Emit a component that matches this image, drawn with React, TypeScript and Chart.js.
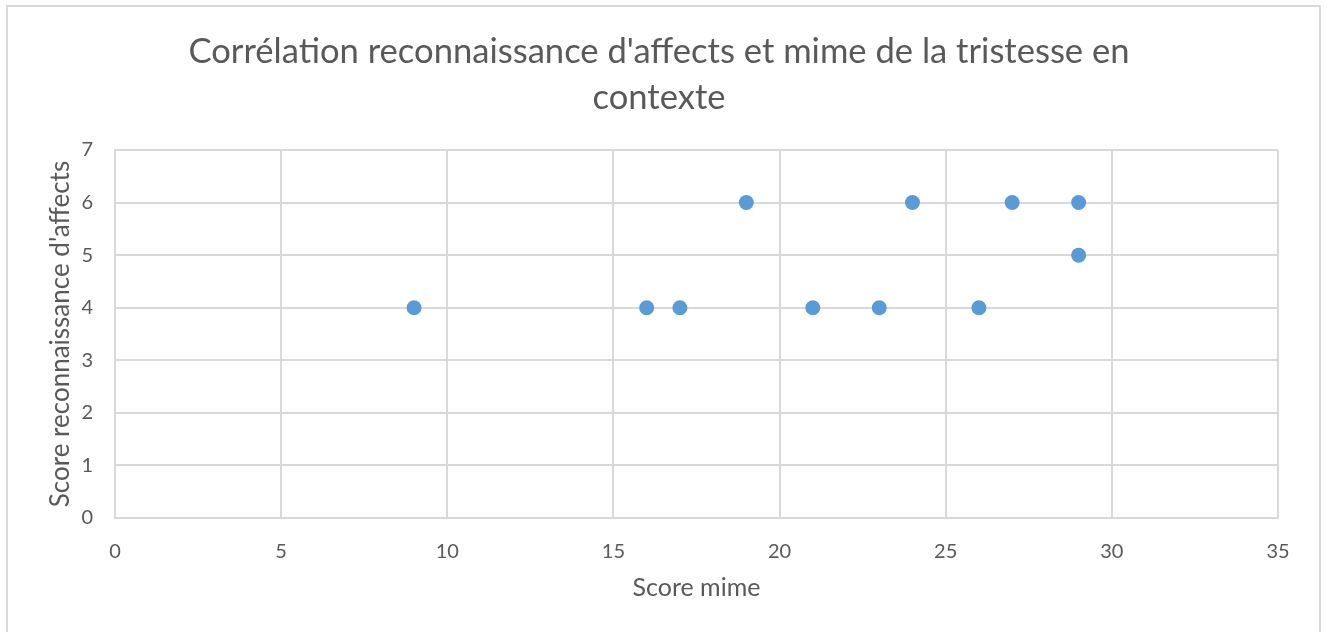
import React, { useEffect, useRef } from "react";
import { Chart, registerables } from "chart.js";

Chart.register(...registerables);

const xValues = [9, 16, 17, 19, 21, 23, 24, 26, 27, 29, 29];
const yValues = [4, 4, 4, 6, 4, 4, 6, 4, 6, 6, 5];
const titleLines = ["Corrélation reconnaissance d'affects et mime de la tristesse en", "contexte"];
const xTitle = "Score mime";
const yTitle = "Score reconnaissance d'affects";

const TEXT = "#595959";
const GRID = "#D9D9D9";
const FONT = "Lato, 'Open Sans', sans-serif";

const borderPlugin = {
  id: "outerBorder",
  beforeDraw(chart: any) {
    const ctx = chart.ctx;
    ctx.save();
    ctx.fillStyle = "#ffffff";
    ctx.fillRect(0, 0, chart.width, chart.height);
    ctx.strokeStyle = GRID;
    ctx.lineWidth = 2;
    ctx.beginPath();
    ctx.moveTo(7, chart.height + 5);
    ctx.lineTo(7, 6);
    ctx.lineTo(1320, 6);
    ctx.lineTo(1320, chart.height + 5);
    ctx.stroke();
    ctx.restore();
  },
};

export default function App() {
  const ref = useRef<HTMLCanvasElement | null>(null);
  useEffect(() => {
    if (!ref.current) return;
    const data = xValues.map((x, i) => ({ x, y: yValues[i] }));
    const chart = new Chart(ref.current, {
      type: "scatter",
      data: {
        datasets: [
          {
            data,
            backgroundColor: "#5B9BD5",
            borderColor: "#5B9BD5",
            pointRadius: 7.5,
            pointBorderWidth: 0,
          },
        ],
      },
      plugins: [borderPlugin],
      options: {
        responsive: false,
        animation: false,
        layout: { padding: { left: 40, right: 50, top: 0, bottom: 20 } },
        plugins: {
          legend: { display: false },
          tooltip: { enabled: false },
          title: {
            display: true,
            text: titleLines,
            color: TEXT,
            font: { family: FONT, size: 34.6, weight: "normal", lineHeight: 46 / 34.6 },
            padding: { top: 29, bottom: 29 },
          },
        },
        scales: {
          x: {
            type: "linear",
            min: 0,
            max: 35,
            ticks: { stepSize: 5, color: TEXT, font: { family: FONT, size: 20 }, padding: 22 },
            grid: { color: GRID, lineWidth: 2, drawTicks: false },
            border: { display: true, color: GRID, width: 2 },
            title: {
              display: true,
              text: xTitle,
              color: TEXT,
              font: { family: FONT, size: 25, lineHeight: 1.2 },
              padding: { top: 9, bottom: 9 },
            },
            afterFit(scale: any) {
              scale.height = 632 - 518 - 20;
            },
          },
          y: {
            type: "linear",
            min: 0,
            max: 7,
            ticks: { stepSize: 1, color: TEXT, font: { family: FONT, size: 20 }, padding: 22 },
            grid: { color: GRID, lineWidth: 2, drawTicks: false },
            border: { display: true, color: GRID, width: 2 },
            title: {
              display: true,
              text: yTitle,
              color: TEXT,
              font: { family: FONT, size: 26, lineHeight: 1.2 },
              padding: { top: 5, bottom: 5 },
            },
            afterFit(scale: any) {
              scale.width = 115 - 40;
            },
          },
        },
      },
    } as any);
    return () => chart.destroy();
  }, []);
  return (
    <div style={{ position: "fixed", left: 0, top: 0, width: 1328, height: 632, background: "#fff" }}>
      <canvas ref={ref} width={1328} height={632} style={{ width: 1328, height: 632, display: "block" }} />
    </div>
  );
}
